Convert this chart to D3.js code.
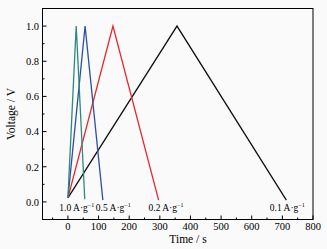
<!DOCTYPE html>
<html><head><meta charset="utf-8">
<script src="https://cdn.jsdelivr.net/npm/d3@7"></script>
<style>body{margin:0;background:#fafafa}svg{display:block}</style>
</head><body>
<svg id="c" width="327" height="249"></svg>
<script>
const seriesNames = ["0.1 A·g", "0.2 A·g", "0.5 A·g", "1.0 A·g"];
const seriesSup = "−1";
const seriesColors = ["#111111", "#e8262b", "#2d4fa6", "#2a8a80"];
const timeValues = [[0, 356, 713], [0, 147, 296], [0, 56, 114], [0, 27, 55]];
const voltValues = [[0.023, 1.0, 0.01], [0.023, 1.0, 0.01], [0.023, 1.0, 0.01], [0.023, 1.0, 0.015]];
const labelTimes = [716, 320, 148, 29];
const xTicks = [0, 100, 200, 300, 400, 500, 600, 700, 800];
const yTicks = [0.0, 0.2, 0.4, 0.6, 0.8, 1.0];

const svg = d3.select("#c");
const L = 42.5, R = 313, T = 8.5, B = 219.5;
const x = d3.scaleLinear().domain([-83, 800]).range([L, R]);
const y = d3.scaleLinear().domain([-0.1, 1.1]).range([B, T]);
const font = "'Liberation Serif', 'Times New Roman', serif";

const xMinor = d3.range(-50, 800, 50).filter(v => v % 100 !== 0);
const yMinor = d3.range(-0.1, 1.1, 0.2).map(v => +v.toFixed(1));
const g = svg.append("g");
g.selectAll(".xM").data(xTicks).join("line").attr("x1", d => x(d)).attr("x2", d => x(d)).attr("y1", B).attr("y2", B - 4).attr("stroke", "#000").attr("stroke-width", 1);
g.selectAll(".xm").data(xMinor).join("line").attr("x1", d => x(d)).attr("x2", d => x(d)).attr("y1", B).attr("y2", B - 2).attr("stroke", "#000").attr("stroke-width", 1);
g.selectAll(".yM").data(yTicks).join("line").attr("y1", d => y(d)).attr("y2", d => y(d)).attr("x1", L).attr("x2", L + 4).attr("stroke", "#000").attr("stroke-width", 1);
g.selectAll(".ym").data(yMinor).join("line").attr("y1", d => y(d)).attr("y2", d => y(d)).attr("x1", L).attr("x2", L + 2).attr("stroke", "#000").attr("stroke-width", 1);

g.selectAll(".xl").data(xTicks).join("text").attr("x", d => x(d)).attr("y", B + 10)
  .attr("text-anchor", "middle").attr("font-family", font).attr("font-size", 10.5).text(d => d);
g.selectAll(".yl").data(yTicks).join("text").attr("x", L - 3.5).attr("y", d => y(d) + 3.8)
  .attr("text-anchor", "end").attr("font-family", font).attr("font-size", 10.5).text(d => d.toFixed(1));

const line = d3.line().x(d => x(d[0])).y(d => y(d[1]));
seriesNames.forEach((n, i) => {
  const pts = timeValues[i].map((t, j) => [t, voltValues[i][j]]);
  svg.append("path").attr("d", line(pts)).attr("fill", "none").attr("stroke", seriesColors[i]).attr("stroke-width", 1.3).attr("stroke-linejoin", "miter");
});

svg.append("rect").attr("x", L).attr("y", T).attr("width", R - L).attr("height", B - T).attr("fill", "none").attr("stroke", "#000").attr("stroke-width", 1);

seriesNames.forEach((n, i) => {
  const t = svg.append("text").attr("x", x(labelTimes[i])).attr("y", 211).attr("text-anchor", "middle")
    .attr("font-family", font).attr("font-size", 9.5).attr("fill", "#000");
  t.append("tspan").text(n);
  t.append("tspan").attr("font-size", 6).attr("dy", -3.8).text(seriesSup);
});

svg.append("text").attr("x", 188).attr("y", 243).attr("text-anchor", "middle").attr("font-family", font).attr("font-size", 11.5).text("Time / s");
svg.append("text").attr("transform", `translate(15,${(T + B) / 2}) rotate(-90)`).attr("text-anchor", "middle").attr("font-family", font).attr("font-size", 11.5).text("Voltage / V");
</script>
</body></html>
